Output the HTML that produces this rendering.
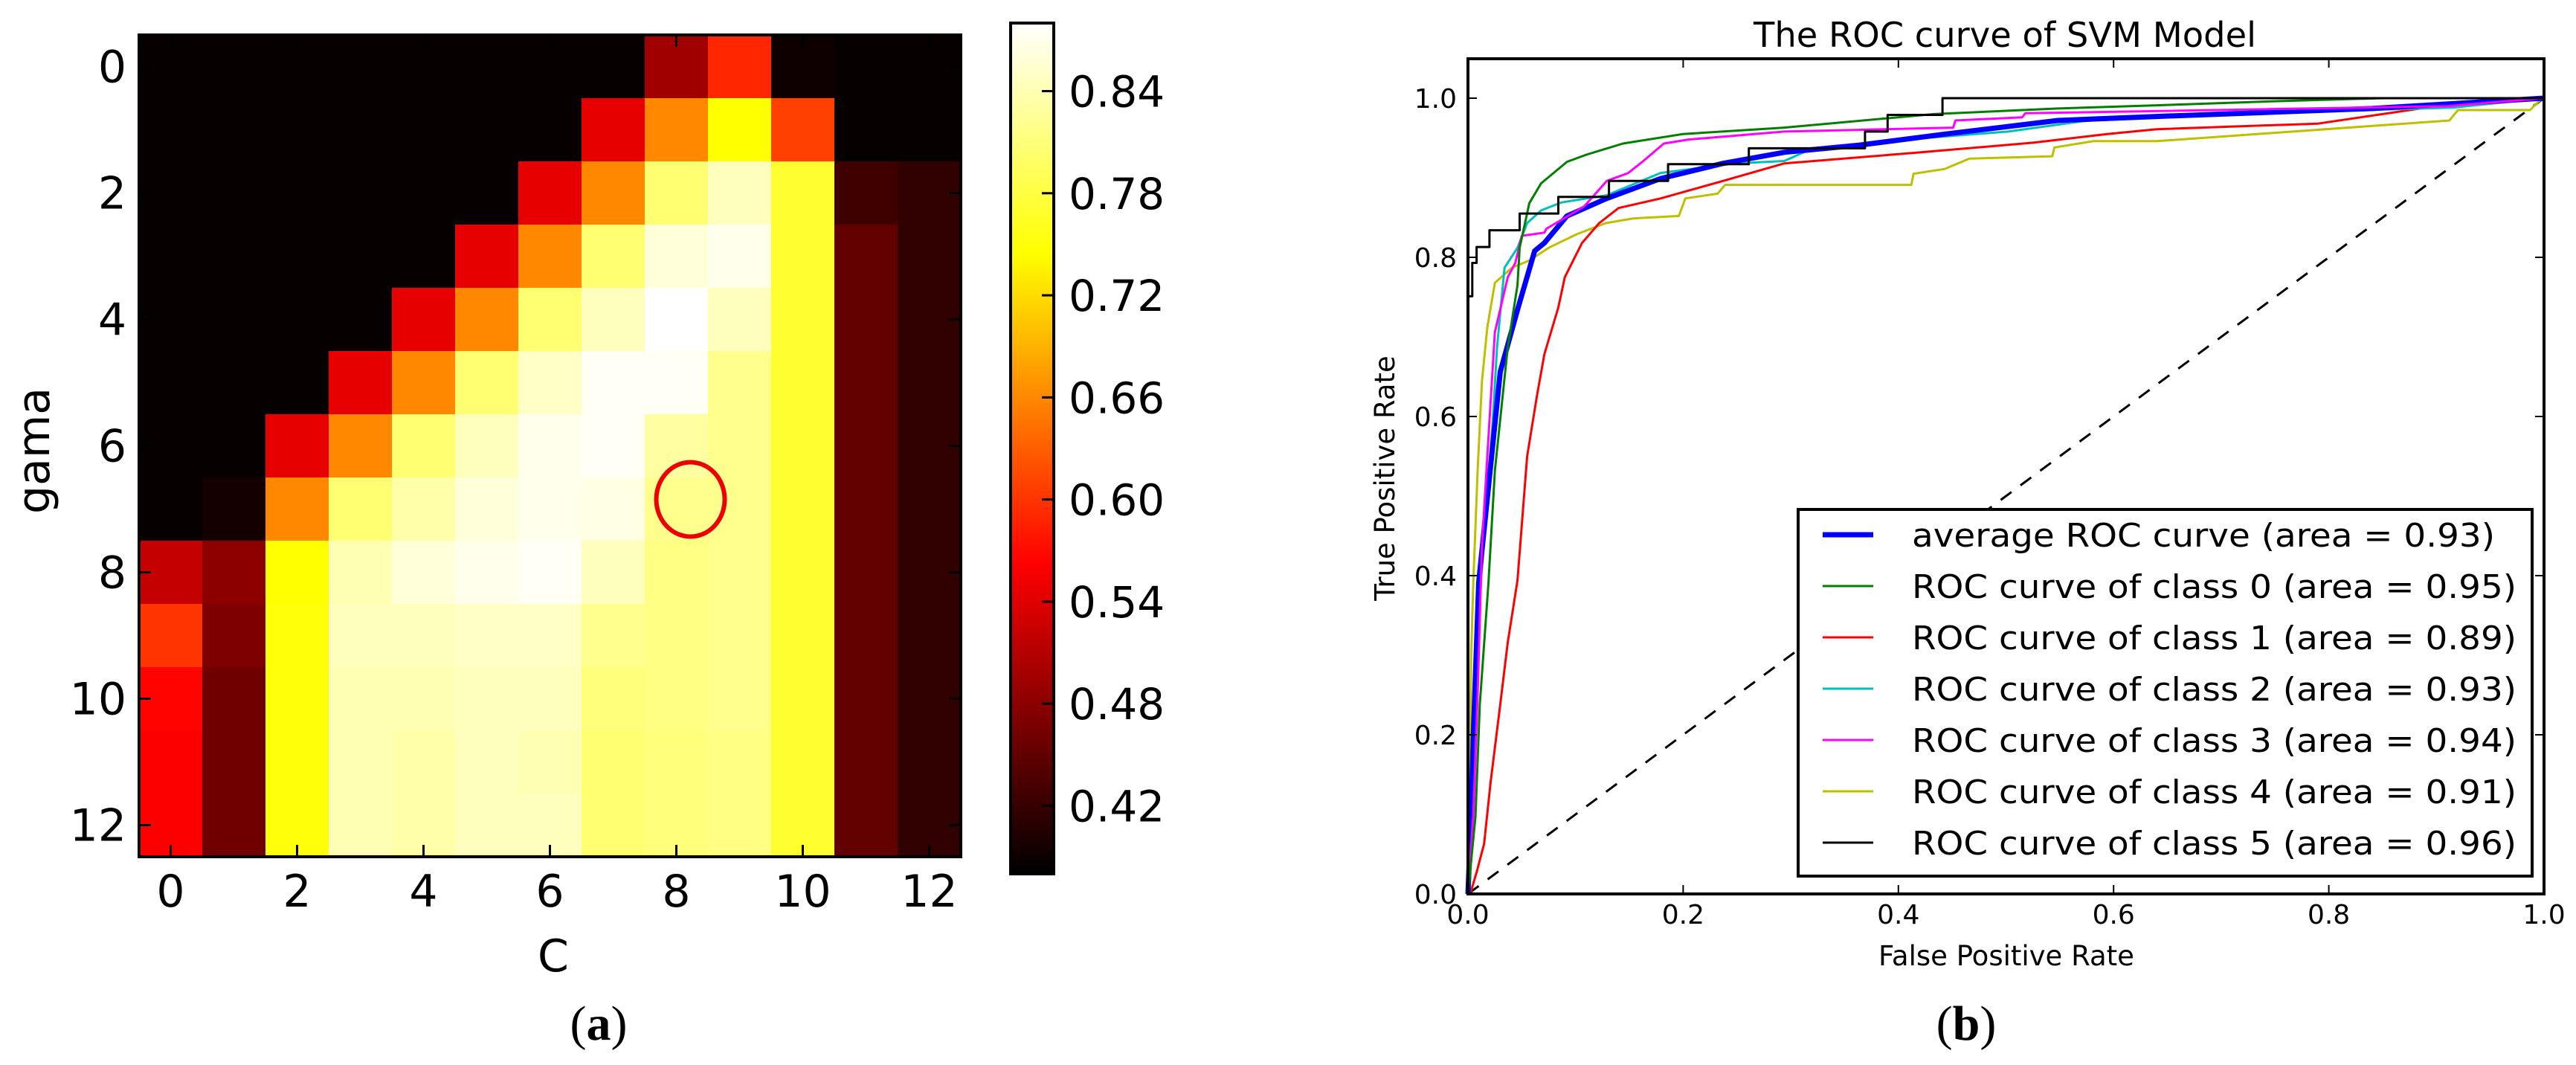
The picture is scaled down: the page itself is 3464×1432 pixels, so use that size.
<!DOCTYPE html>
<html><head><meta charset="utf-8">
<style>
html,body{margin:0;padding:0;background:#fff;}
svg{display:block;font-family:"DejaVu Sans","Liberation Sans",sans-serif;}
</style></head>
<body>
<svg id="fig" width="3464" height="1432" viewBox="0 0 3464 1432" xmlns="http://www.w3.org/2000/svg">
<defs>
<linearGradient id="hotgrad" x1="0" y1="1" x2="0" y2="0">
<stop offset="0" stop-color="#000000"/>
<stop offset="0.365" stop-color="#ff0000"/>
<stop offset="0.73" stop-color="#ffff00"/>
<stop offset="1" stop-color="#ffffff"/>
</linearGradient>
</defs>
<g id="heat"></g>
<g id="roc"></g>
</svg>
<script>
// ---------- Heatmap data ----------
const gammaIdx = [0,1,2,3,4,5,6,7,8,9,10,11,12];
const cIdx = [0,1,2,3,4,5,6,7,8,9,10,11,12];
const heatTicks = [0,2,4,6,8,10,12];
const cbarTicks = [0.42,0.48,0.54,0.60,0.66,0.72,0.78,0.84];
const row0  = [.385,.385,.385,.385,.385,.385,.385,.385,.495,.59,.39,.385,.385];
const row1  = [.385,.385,.385,.385,.385,.385,.385,.545,.66,.745,.608,.385,.385];
const row2  = [.385,.385,.385,.385,.385,.385,.545,.66,.805,.845,.77,.425,.415];
const row3  = [.385,.385,.385,.385,.385,.545,.66,.805,.86,.87,.77,.45,.415];
const row4  = [.385,.385,.385,.385,.545,.66,.805,.845,.88,.845,.77,.45,.415];
const row5  = [.385,.385,.385,.545,.66,.805,.85,.875,.875,.82,.77,.45,.415];
const row6  = [.385,.385,.545,.66,.805,.845,.87,.875,.83,.82,.77,.45,.415];
const row7  = [.385,.395,.66,.805,.835,.86,.87,.865,.82,.82,.77,.45,.415];
const row8  = [.52,.48,.745,.84,.86,.87,.875,.845,.815,.82,.77,.45,.415];
const row9  = [.60,.47,.75,.845,.845,.85,.85,.82,.815,.82,.77,.45,.415];
const row10 = [.565,.46,.75,.84,.84,.845,.845,.81,.815,.82,.77,.45,.415];
const row11 = [.56,.46,.75,.84,.835,.845,.84,.805,.81,.815,.77,.45,.415];
const row12 = [.56,.46,.75,.84,.835,.845,.845,.805,.81,.815,.77,.45,.415];
const heatRows = [row0,row1,row2,row3,row4,row5,row6,row7,row8,row9,row10,row11,row12];
const vmin = 0.38, vmax = 0.88;
const bestC = 8.2, bestGamma = 7.2;

// ---------- ROC data ----------
const diagX = [0,1], diagY = [0,1];
const avgF = [0,.003,.005,.01,.03,.046,.062,.071,.092,.129,.179,.237,.294,.364,.444,.548,.64,.84,1];
const avgT = [0,.1,.2,.392,.656,.734,.808,.818,.852,.874,.899,.918,.932,.941,.955,.972,.977,.987,1];
const c0F = [0,.007,.011,.019,.025,.037,.046,.048,.057,.068,.092,.11,.144,.2,.294,.433,.548,.64,.747,.85,1];
const c0T = [0,.097,.238,.39,.532,.687,.765,.812,.868,.893,.92,.929,.943,.955,.963,.98,.987,.991,.996,1,1];
const c1F = [0,.003,.008,.015,.021,.03,.037,.046,.055,.064,.071,.084,.09,.106,.122,.14,.179,.237,.294,.421,.525,.594,.64,.79,.915,1];
const c1T = [0,.004,.027,.063,.14,.238,.316,.394,.55,.625,.678,.737,.775,.818,.843,.862,.874,.896,.918,.932,.944,.955,.961,.968,.993,1];
const c2F = [0,.004,.008,.012,.023,.027,.034,.046,.055,.068,.087,.129,.179,.248,.294,.317,.386,.502,.571,.64,.915,1];
const c2T = [0,.1,.25,.392,.594,.687,.787,.812,.843,.859,.869,.878,.906,.918,.921,.935,.946,.958,.971,.978,.988,1];
const c3F = [0,.005,.009,.013,.02,.025,.037,.044,.05,.071,.073,.108,.129,.149,.163,.182,.205,.294,.451,.453,.515,.518,.91,1];
const c3T = [0,.1,.25,.438,.594,.706,.775,.793,.827,.831,.836,.864,.896,.906,.921,.943,.948,.958,.963,.972,.976,.981,.99,1];
const c4F = [0,.002,.003,.005,.009,.013,.018,.025,.041,.057,.075,.101,.128,.154,.196,.202,.232,.239,.412,.414,.443,.466,.543,.545,.581,.64,.912,.92,.987,.995,1];
const c4T = [0,.2,.3,.392,.532,.644,.712,.768,.787,.796,.812,.829,.843,.849,.852,.874,.88,.891,.891,.905,.911,.924,.927,.938,.946,.946,.972,.985,.985,.996,1];
const c5F = [0,0,.004,.004,.008,.008,.02,.02,.048,.048,.084,.084,.131,.131,.186,.186,.261,.261,.369,.369,.39,.39,.441,.441,1];
const c5T = [0,.751,.751,.793,.793,.813,.813,.834,.834,.855,.855,.876,.876,.896,.896,.917,.917,.937,.937,.958,.958,.979,.979,1,1];
const xTicks = [0,0.2,0.4,0.6,0.8,1.0];
const yTicks = [0,0.2,0.4,0.6,0.8,1.0];
const legendLabels = ["average ROC curve (area = 0.93)","ROC curve of class 0 (area = 0.95)","ROC curve of class 1 (area = 0.89)","ROC curve of class 2 (area = 0.93)","ROC curve of class 3 (area = 0.94)","ROC curve of class 4 (area = 0.91)","ROC curve of class 5 (area = 0.96)"];

const NS = "http://www.w3.org/2000/svg";
function mk(parent, tag, attrs, text){
  const e = document.createElementNS(NS, tag);
  for (const k in attrs) e.setAttribute(k, attrs[k]);
  if (text !== undefined) e.textContent = text;
  parent.appendChild(e);
  return e;
}
function hot(v){
  let t = (v - vmin)/(vmax - vmin); t = Math.max(0, Math.min(1, t));
  const r = Math.min(1, t/0.365), g = Math.max(0, Math.min(1, (t-0.365)/0.365)), b = Math.max(0, Math.min(1, (t-0.73)/0.27));
  return `rgb(${Math.round(r*255)},${Math.round(g*255)},${Math.round(b*255)})`;
}

// ---------- Heatmap ----------
const H = document.getElementById('heat');
const hx0 = 187, hy0 = 47, cell = 85;
const hx = c => hx0 + (c + 0.5) * cell;
const hy = g => hy0 + (g + 0.5) * cell;
gammaIdx.forEach((g, gi) => {
  cIdx.forEach((c, ci) => {
    const r = mk(H, 'rect', {x: hx(c) - cell/2, y: hy(g) - cell/2, width: cell + 0.6, height: cell + 0.6, fill: hot(heatRows[gi][ci])});
    
    
  });
});
let e = mk(H, 'rect', {x: hx0, y: hy0, width: cell*13, height: cell*13, fill: 'none', stroke: '#000', 'stroke-width': 4});
 
heatTicks.forEach(t => {
  mk(H, 'line', {x1: hx(t), x2: hx(t), y1: hy0 + cell*13, y2: hy0 + cell*13 - 16, stroke: '#000', 'stroke-width': 3});
  mk(H, 'line', {x1: hx(t), x2: hx(t), y1: hy0, y2: hy0 + 16, stroke: '#000', 'stroke-width': 3});
  mk(H, 'line', {x1: hx0, x2: hx0 + 16, y1: hy(t), y2: hy(t), stroke: '#000', 'stroke-width': 3});
  mk(H, 'line', {x1: hx0 + cell*13, x2: hx0 + cell*13 - 16, y1: hy(t), y2: hy(t), stroke: '#000', 'stroke-width': 3});
  e = mk(H, 'text', {x: hx(t), y: 1219, 'font-size': 60, 'text-anchor': 'middle'}, String(t));
   
  e = mk(H, 'text', {x: 170, y: hy(t) + 21, 'font-size': 60, 'text-anchor': 'end'}, String(t));
   
});
e = mk(H, 'text', {x: 744, y: 1306, 'font-size': 60, 'text-anchor': 'middle'}, 'C');
 
e = mk(H, 'text', {x: 0, y: 0, 'font-size': 60, 'text-anchor': 'middle', transform: 'translate(66,606) rotate(-90)'}, 'gama');
 
e = mk(H, 'ellipse', {cx: hx(bestC) + 2, cy: hy(bestGamma) - 30, rx: 46, ry: 50, fill: 'none', stroke: '#ee0000', 'stroke-width': 6});
 
// colorbar
const cbx = 1359, cbw = 58, cbTop = 31, cbBot = 1175;
const cby = v => cbBot - (v - vmin)/(vmax - vmin) * (cbBot - cbTop);
e = mk(H, 'rect', {x: cbx, y: cbTop, width: cbw, height: cbBot - cbTop, fill: 'url(#hotgrad)', stroke: '#000', 'stroke-width': 4});
 
cbarTicks.forEach(v => {
  mk(H, 'line', {x1: cbx + cbw - 16, x2: cbx + cbw, y1: cby(v), y2: cby(v), stroke: '#000', 'stroke-width': 3});
  const t = mk(H, 'text', {x: 1437, y: cby(v) + 21, 'font-size': 58}, v.toFixed(2));
   
});
e = mk(H, 'text', {x: 805, y: 1398, 'font-size': 66, 'text-anchor': 'middle', 'font-family': '"Liberation Serif",serif'}, '');
e.innerHTML = '(<tspan font-weight="bold">a</tspan>)';
 

// ---------- ROC ----------
const R = document.getElementById('roc');
const rx0 = 1974, rx1 = 3421, ry0 = 1202, ry1 = 132, rTop = 79;
const sx = f => rx0 + f * (rx1 - rx0);
const sy = t => ry0 - t * (ry0 - ry1);
function path(F, T){ return F.map((f,i) => (i ? 'L' : 'M') + sx(f).toFixed(1) + ',' + sy(T[i]).toFixed(1)).join(''); }
e = mk(R, 'path', {d: path(diagX, diagY), stroke: '#000', 'stroke-width': 3, 'stroke-dasharray': '18,15', fill: 'none'});
 
const series = [
  {F: c4F, T: c4T, c: '#bfbf00', w: 3, n: 'curve-class-4'},
  {F: c1F, T: c1T, c: '#ff0000', w: 3, n: 'curve-class-1'},
  {F: c2F, T: c2T, c: '#00bfbf', w: 3, n: 'curve-class-2'},
  {F: avgF, T: avgT, c: '#0000ff', w: 7, n: 'curve-average'},
  {F: c3F, T: c3T, c: '#ff00ff', w: 3, n: 'curve-class-3'},
  {F: c0F, T: c0T, c: '#008000', w: 3, n: 'curve-class-0'},
  {F: c5F, T: c5T, c: '#000000', w: 3, n: 'curve-class-5'}
];
series.forEach(s => {
  const p = mk(R, 'path', {d: path(s.F, s.T), stroke: s.c, 'stroke-width': s.w, fill: 'none', 'stroke-linejoin': 'round'});
  
  
});
e = mk(R, 'rect', {x: rx0, y: rTop, width: rx1 - rx0, height: ry0 - rTop, fill: 'none', stroke: '#000', 'stroke-width': 4});
 
xTicks.forEach(v => {
  mk(R, 'line', {x1: sx(v), x2: sx(v), y1: ry0, y2: ry0 - 12, stroke: '#000', 'stroke-width': 2});
  mk(R, 'line', {x1: sx(v), x2: sx(v), y1: rTop, y2: rTop + 12, stroke: '#000', 'stroke-width': 2});
  const t = mk(R, 'text', {x: sx(v), y: 1242, 'font-size': 36, 'text-anchor': 'middle'}, v.toFixed(1));
   
});
yTicks.forEach(v => {
  mk(R, 'line', {x1: rx0, x2: rx0 + 12, y1: sy(v), y2: sy(v), stroke: '#000', 'stroke-width': 2});
  mk(R, 'line', {x1: rx1, x2: rx1 - 12, y1: sy(v), y2: sy(v), stroke: '#000', 'stroke-width': 2});
  const t = mk(R, 'text', {x: 1959, y: sy(v) + 13, 'font-size': 36, 'text-anchor': 'end'}, v.toFixed(1));
   
});
e = mk(R, 'text', {x: 2358, y: 63, 'font-size': 46, textLength: 676, lengthAdjust: 'spacingAndGlyphs'}, 'The ROC curve of SVM Model');
 
e = mk(R, 'text', {x: 2698, y: 1298, 'font-size': 37, 'text-anchor': 'middle'}, 'False Positive Rate');
 
e = mk(R, 'text', {x: 0, y: 0, 'font-size': 37, 'text-anchor': 'middle', transform: 'translate(1875,643) rotate(-90)'}, 'True Positive Rate');
 
// legend
const L = mk(R, 'g', {});
 
mk(L, 'rect', {x: 2418, y: 685, width: 987, height: 493, fill: '#fff', stroke: '#000', 'stroke-width': 4});
const legColors = ['#0000ff','#008000','#ff0000','#00bfbf','#ff00ff','#bfbf00','#000000'];
legendLabels.forEach((lab, i) => {
  const cy = 719 + i * 69;
  const g = mk(L, 'g', {});
  
  
  mk(g, 'line', {x1: 2451, x2: 2519, y1: cy, y2: cy, stroke: legColors[i], 'stroke-width': i === 0 ? 7 : 3});
  mk(g, 'text', {x: 2571, y: cy + 16, 'font-size': 44, textLength: i === 0 ? 784 : 813, lengthAdjust: 'spacingAndGlyphs'}, lab);
});
e = mk(R, 'text', {x: 2644, y: 1398, 'font-size': 66, 'text-anchor': 'middle', 'font-family': '"Liberation Serif",serif'}, '');
e.innerHTML = '(<tspan font-weight="bold">b</tspan>)';
 
</script>
</body></html>
